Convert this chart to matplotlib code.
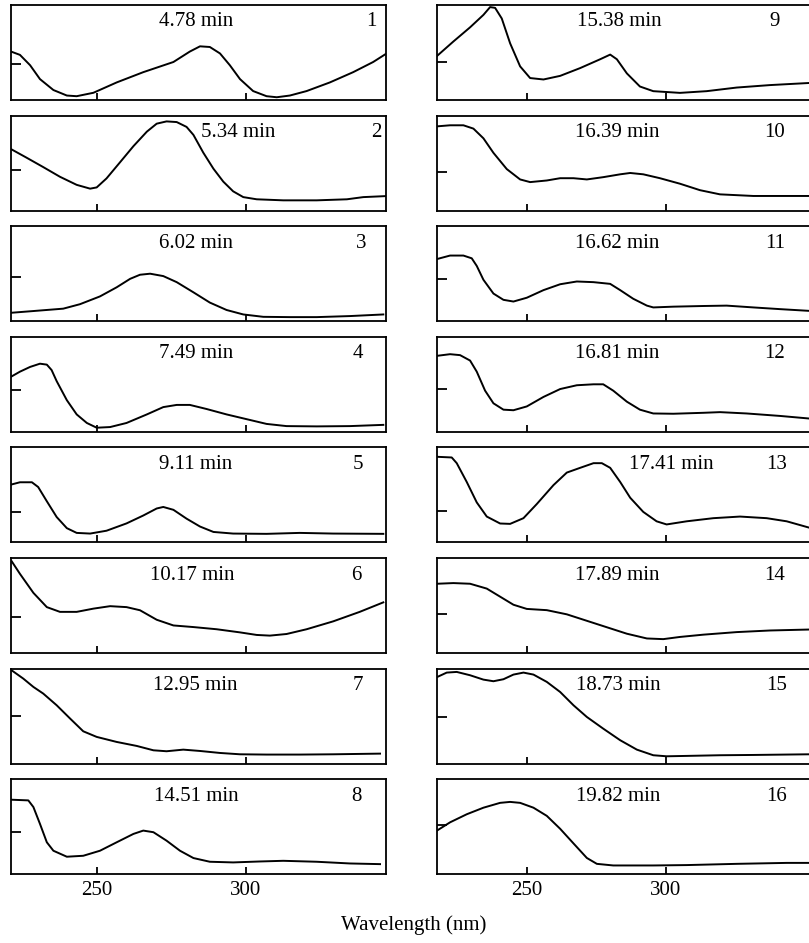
import matplotlib
matplotlib.use("Agg")
import matplotlib.pyplot as plt

plt.rcParams["font.family"] = ["Liberation Serif", "DejaVu Serif"]
plt.rcParams["font.size"] = 15

# retention times and peak numbers
times = ["4.78 min", "5.34 min", "6.02 min", "7.49 min", "9.11 min", "10.17 min",
         "12.95 min", "14.51 min", "15.38 min", "16.39 min", "16.62 min",
         "16.81 min", "17.41 min", "17.89 min", "18.73 min", "19.82 min"]
peak_ids = [str(i) for i in range(1, 17)]

# UV spectra: wavelength (nm), relative absorbance (0-1 of panel)
wl_1 = [221.3, 224.3, 227.7, 231.0, 235.5, 240.0, 243.3, 248.9, 256.7, 265.6, 275.7, 281.2, 284.6,
        287.9, 291.3, 294.6, 298.0, 302.4, 306.9, 310.3, 314.7, 320.3, 328.1, 335.9, 342.6, 347.1]
ab_1 = [0.51, 0.475, 0.366, 0.22, 0.105, 0.047, 0.04, 0.076, 0.185, 0.293, 0.40, 0.51, 0.565,
        0.558, 0.49, 0.366, 0.22, 0.094, 0.04, 0.029, 0.047, 0.094, 0.185, 0.293, 0.40, 0.49]

wl_2 = [221.5, 226.4, 232.1, 237.7, 243.3, 247.8, 250.0, 253.3, 257.8, 262.3, 266.8, 270.1, 273.4, 276.8,
        280.1, 282.4, 285.7, 289.1, 292.4, 295.7, 299.1, 303.6, 312.5, 323.7, 333.8, 339.3, 347.1]
ab_2 = [0.644, 0.559, 0.458, 0.356, 0.271, 0.231, 0.244, 0.339, 0.508, 0.678, 0.831, 0.915, 0.939, 0.932,
        0.881, 0.797, 0.610, 0.441, 0.305, 0.203, 0.142, 0.119, 0.108, 0.108, 0.119, 0.142, 0.153]

wl_3 = [221.5, 228.8, 238.8, 244.4, 251.1, 256.7, 261.2, 264.5, 267.9, 272.3, 276.8, 282.4, 287.9,
        293.5, 299.1, 305.8, 314.7, 323.7, 334.8, 346.0]
ab_3 = [0.089, 0.107, 0.132, 0.179, 0.261, 0.357, 0.446, 0.489, 0.50, 0.475, 0.411, 0.304, 0.196,
        0.118, 0.071, 0.046, 0.043, 0.043, 0.054, 0.071]

wl_4 = [221.5, 224.3, 227.7, 231.0, 233.3, 234.9, 236.6, 240.0, 243.3, 246.7, 250.0, 254.5, 260.0,
        266.8, 272.3, 276.8, 281.2, 286.8, 293.5, 300.2, 306.9, 313.6, 323.7, 334.8, 346.0]
ab_4 = [0.583, 0.633, 0.683, 0.717, 0.707, 0.65, 0.533, 0.333, 0.183, 0.093, 0.043, 0.05, 0.093,
        0.183, 0.26, 0.283, 0.283, 0.24, 0.183, 0.133, 0.083, 0.06, 0.057, 0.06, 0.073]

wl_5 = [221.5, 224.3, 228.3, 230.4, 233.3, 236.6, 240.0, 243.3, 247.8, 253.3, 260.0, 265.6, 270.1,
        272.3, 275.7, 280.1, 284.6, 289.1, 295.7, 306.9, 318.0, 329.2, 346.0]
ab_5 = [0.61, 0.633, 0.633, 0.583, 0.433, 0.267, 0.15, 0.10, 0.093, 0.123, 0.20, 0.283, 0.357,
        0.373, 0.343, 0.25, 0.167, 0.11, 0.093, 0.09, 0.10, 0.093, 0.09]

wl_6 = [221.5, 224.3, 228.8, 233.3, 237.7, 243.3, 248.9, 254.5, 260.0, 264.5, 270.1, 275.7, 282.4,
        290.2, 298.0, 303.6, 308.0, 313.6, 320.3, 329.2, 338.1, 346.0]
ab_6 = [0.967, 0.833, 0.633, 0.483, 0.433, 0.433, 0.467, 0.493, 0.483, 0.45, 0.35, 0.29, 0.273,
        0.25, 0.217, 0.19, 0.183, 0.20, 0.25, 0.333, 0.433, 0.533]

wl_7 = [221.5, 225.4, 228.8, 232.1, 236.6, 241.1, 245.5, 250.0, 256.7, 263.4, 269.0, 273.4, 279.0,
        284.6, 291.3, 298.0, 306.9, 318.0, 329.2, 344.9]
ab_7 = [0.982, 0.895, 0.807, 0.737, 0.614, 0.474, 0.34, 0.281, 0.228, 0.186, 0.14, 0.13, 0.147,
        0.133, 0.112, 0.098, 0.095, 0.095, 0.098, 0.105]

wl_8 = [221.5, 227.1, 228.8, 231.0, 233.3, 235.5, 240.0, 245.5, 251.1, 256.7, 262.3, 265.6, 269.0,
        273.4, 277.9, 282.4, 287.9, 295.7, 304.7, 312.5, 323.7, 334.8, 344.9]
ab_8 = [0.784, 0.777, 0.707, 0.53, 0.336, 0.247, 0.184, 0.194, 0.247, 0.336, 0.424, 0.459, 0.442,
        0.353, 0.247, 0.17, 0.131, 0.124, 0.134, 0.141, 0.131, 0.113, 0.106]

wl_9 = [217.7, 223.5, 229.5, 234.3, 236.7, 238.5, 240.9, 243.9, 247.5, 251.1, 255.9, 261.9, 269.1,
        276.3, 279.9, 282.3, 285.9, 290.6, 295.4, 305.0, 314.6, 325.4, 337.4, 351.4]
ab_9 = [0.466, 0.616, 0.765, 0.896, 0.978, 0.97, 0.858, 0.597, 0.354, 0.231, 0.216, 0.254, 0.336,
        0.429, 0.478, 0.429, 0.28, 0.142, 0.093, 0.075, 0.093, 0.131, 0.157, 0.179]

wl_10 = [217.7, 222.3, 227.1, 230.7, 234.3, 237.9, 242.7, 247.5, 251.1, 257.1, 261.9, 266.7, 271.5,
         277.4, 283.5, 287.1, 291.8, 297.8, 305.0, 312.2, 319.4, 331.4, 343.4, 351.4]
ab_10 = [0.887, 0.898, 0.898, 0.863, 0.761, 0.608, 0.437, 0.328, 0.30, 0.317, 0.341, 0.341, 0.328,
         0.352, 0.382, 0.396, 0.382, 0.341, 0.283, 0.215, 0.171, 0.154, 0.154, 0.154]

wl_11 = [217.7, 222.3, 227.1, 230.1, 231.9, 234.3, 237.9, 241.5, 245.1, 249.9, 255.9, 261.9, 267.9,
         273.9, 279.9, 283.5, 288.2, 293.1, 295.4, 302.6, 313.4, 321.8, 331.4, 341.0, 351.4]
ab_11 = [0.655, 0.691, 0.691, 0.662, 0.582, 0.436, 0.291, 0.225, 0.207, 0.247, 0.327, 0.389, 0.418,
         0.411, 0.393, 0.327, 0.236, 0.164, 0.145, 0.153, 0.16, 0.164, 0.145, 0.127, 0.109]

wl_12 = [217.7, 222.3, 225.9, 229.5, 231.9, 234.9, 237.9, 241.5, 245.1, 249.9, 255.9, 261.9, 267.9,
         273.9, 277.4, 281.0, 285.9, 290.6, 295.4, 302.6, 313.4, 319.4, 329.0, 341.0, 351.4]
ab_12 = [0.80, 0.817, 0.807, 0.75, 0.633, 0.433, 0.30, 0.233, 0.227, 0.267, 0.367, 0.45, 0.49,
         0.50, 0.50, 0.433, 0.317, 0.233, 0.193, 0.19, 0.20, 0.207, 0.193, 0.167, 0.14]

wl_13 = [217.7, 222.9, 224.7, 228.3, 231.9, 235.5, 240.3, 243.9, 248.7, 253.5, 259.5, 264.3, 269.1,
         273.9, 276.9, 279.9, 283.5, 287.1, 291.8, 296.6, 300.2, 307.4, 317.0, 326.6, 336.2, 343.4, 351.4]
ab_13 = [0.901, 0.894, 0.834, 0.636, 0.421, 0.272, 0.199, 0.195, 0.255, 0.404, 0.603, 0.735, 0.785,
         0.834, 0.834, 0.785, 0.636, 0.47, 0.321, 0.222, 0.189, 0.222, 0.255, 0.272, 0.255, 0.222, 0.156]

wl_14 = [217.7, 223.5, 229.5, 235.5, 240.3, 245.1, 249.9, 257.1, 264.3, 271.5, 278.7, 285.9, 293.1,
         299.0, 305.0, 313.4, 325.4, 337.4, 351.4]
ab_14 = [0.729, 0.736, 0.729, 0.678, 0.593, 0.508, 0.464, 0.451, 0.407, 0.339, 0.271, 0.203, 0.153,
         0.146, 0.169, 0.193, 0.22, 0.237, 0.247]

wl_15 = [217.7, 221.1, 224.7, 229.5, 234.3, 237.9, 241.5, 245.1, 248.7, 252.3, 257.1, 261.9, 266.7,
         271.5, 277.4, 283.5, 289.5, 295.4, 300.2, 307.4, 319.4, 331.4, 351.4]
ab_15 = [0.912, 0.958, 0.965, 0.93, 0.884, 0.867, 0.888, 0.937, 0.958, 0.937, 0.86, 0.754, 0.614,
         0.491, 0.368, 0.246, 0.147, 0.088, 0.077, 0.081, 0.088, 0.091, 0.098]

wl_16 = [217.7, 222.3, 228.3, 234.3, 240.3, 243.9, 247.5, 252.3, 257.1, 261.9, 266.7, 271.5, 275.1,
         281.0, 295.4, 307.4, 325.4, 343.4, 351.4]
ab_16 = [0.461, 0.546, 0.631, 0.70, 0.751, 0.761, 0.751, 0.70, 0.614, 0.478, 0.324, 0.171, 0.109,
         0.092, 0.092, 0.096, 0.109, 0.119, 0.119]

spectra = [(wl_1, ab_1), (wl_2, ab_2), (wl_3, ab_3), (wl_4, ab_4), (wl_5, ab_5), (wl_6, ab_6),
           (wl_7, ab_7), (wl_8, ab_8), (wl_9, ab_9), (wl_10, ab_10), (wl_11, ab_11), (wl_12, ab_12),
           (wl_13, ab_13), (wl_14, ab_14), (wl_15, ab_15), (wl_16, ab_16)]

xticks = [250, 300]

#########################################################
# layout (pixels of a 809 x 943 figure)
#########################################################
W, H = 809, 943
fig = plt.figure(figsize=(W / 100, H / 100), dpi=100)

col_left = [11, 437]
col_xlim = [(221.3, 346.9), (217.6, 352.5)]
panel_w = 375
panel_h = 95
pitch = 110.6
top0 = 5

ytick_pos = [0.38, 0.43, 0.47, 0.44, 0.32, 0.38, 0.50, 0.44,
             0.40, 0.41, 0.44, 0.45, 0.33, 0.41, 0.49, 0.52]
label_x = [0.493, 0.605, 0.493, 0.493, 0.493, 0.484, 0.491, 0.493,
           0.485, 0.48, 0.48, 0.48, 0.626, 0.48, 0.484, 0.484]
num_x = [0.962, 0.975, 0.935, 0.926, 0.926, 0.922, 0.926, 0.922,
         0.901, 0.901, 0.901, 0.901, 0.906, 0.901, 0.906, 0.906]

for i, (wl, ab) in enumerate(spectra):
    col, row = divmod(i, 8)
    top = top0 + row * pitch
    ax = fig.add_axes([col_left[col] / W, 1 - (top + panel_h) / H, panel_w / W, panel_h / H])
    ax.plot(wl, ab, color="black", lw=1.4, solid_joinstyle="round")
    ax.set_xlim(*col_xlim[col])
    ax.set_ylim(0, 1)
    for s in ax.spines.values():
        s.set_linewidth(1.3)
    ax.set_xticks(xticks)
    ax.set_yticks([ytick_pos[i]])
    ax.set_yticklabels([])
    ax.tick_params(axis="x", direction="in", length=5, width=1.3, pad=5, labelsize=15)
    ax.tick_params(axis="y", direction="in", length=7.5, width=1.3)
    if row < 7:
        ax.set_xticklabels([])
    ax.text(label_x[i], 1 - 17 / panel_h, times[i], transform=ax.transAxes,
            ha="center", va="center", fontsize=15)
    ax.text(num_x[i], 1 - 17 / panel_h, peak_ids[i], transform=ax.transAxes,
            ha="center", va="center", fontsize=15)

fig.text(414 / W, 1 - 925 / H, "Wavelength (nm)", ha="center", va="center", fontsize=15)

fig.savefig("out.png", dpi=100)
